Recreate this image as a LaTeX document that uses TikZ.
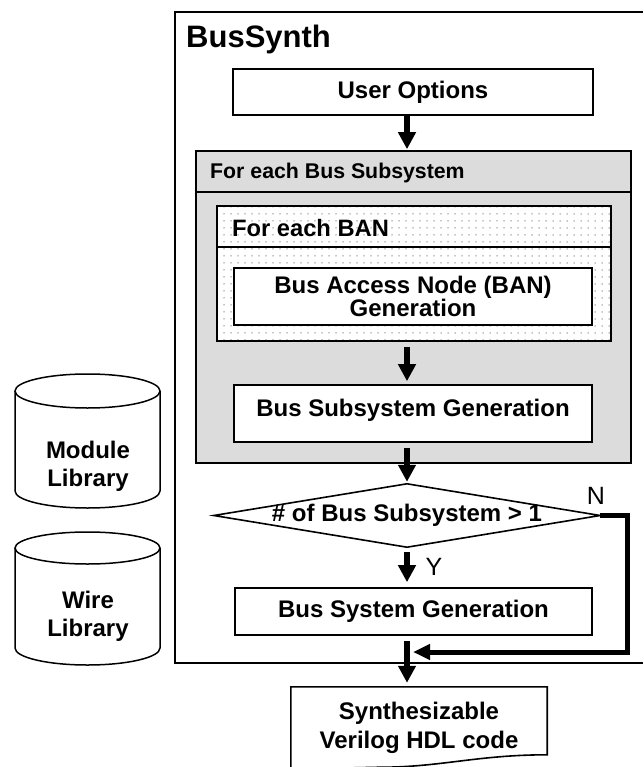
\documentclass[tikz,border=0pt]{standalone}
\usepackage{fontspec}
\setmainfont{Liberation Sans}
\usetikzlibrary{arrows.meta,patterns.meta,calc}
\definecolor{panelgray}{RGB}{220,220,220}
\begin{document}
\begin{tikzpicture}[x=1pt,y=-1pt,
  box/.style={draw, line width=1.6pt, fill=white, inner sep=0pt, align=center,
    font=\fontsize{24}{21.5}\selectfont\bfseries},
  plain/.style={inner sep=0pt, font=\fontsize{24}{28}\selectfont\bfseries, align=center},
  flow/.style={line width=6pt, -{Triangle[length=17pt,width=17pt]}},
  nline/.style={line width=5pt, line join=miter, -{Triangle[length=17pt,width=15pt]}},
  frame/.style={line width=1.6pt},
  cyl/.style={line width=1.5pt}]
\useasboundingbox (0,0) rectangle (643,767);

% outer BusSynth frame (open on the right, beyond the picture)
\draw[line width=1.3pt] (643,12) -- (175,12) -- (175,663) -- (643,663);
\node[anchor=base west, inner sep=0pt, font=\fontsize{31}{31}\selectfont\bfseries] (title) at (186,48) {BusSynth};

% user options
\node[box, minimum width=360pt, minimum height=46pt] (uo) at (413,92) {User Options};

% gray panel
\node[draw, frame, fill=panelgray, minimum width=435pt, minimum height=312pt, inner sep=0pt] (sub) at (413.5,307) {};
\draw[frame] (sub.west |- 0,192) -- (sub.east |- 0,192);
\node[anchor=base west, inner sep=0pt, font=\fontsize{21.3}{21.3}\selectfont\bfseries] (subt) at (210,179) {For each Bus Subsystem};

% dotted BAN loop
\node[draw, frame, preaction={fill=white}, pattern={Dots[distance=7pt,radius=0.75pt]}, pattern color=black!45,
  minimum width=394pt, minimum height=135pt, inner sep=0pt] (ban) at (414,273.5) {};
\draw[frame] (ban.west |- 0,247) -- (ban.east |- 0,247);
\node[anchor=base west, inner sep=0pt, font=\fontsize{23.7}{23.7}\selectfont\bfseries] (bant) at (232,236) {For each BAN};

\node[box, minimum width=358pt, minimum height=57pt] (bangen) at (413,296.5) {Bus Access Node (BAN)\\Generation};

\node[box, minimum width=358pt, minimum height=57pt, text height=17pt, text depth=12pt] (bsg) at (413,413.5) {Bus Subsystem Generation};

% decision
\node[inner sep=0pt, minimum width=386pt, minimum height=63pt, font=\fontsize{24}{24}\selectfont\bfseries] (dia) at (407,515.5) {\# of Bus Subsystem > 1};
\draw[frame, line join=miter] (dia.west) -- (dia.north) -- (dia.east) -- (dia.south) -- cycle;

\node[box, minimum width=357pt, minimum height=47pt] (bsys) at (413.5,611.5) {Bus System Generation};

% output document
\node[plain, minimum width=256pt, minimum height=82pt, font=\fontsize{24}{29}\selectfont\bfseries] (doc) at (419,728) {Synthesizable\\Verilog HDL code};
\draw[frame, fill=none] (doc.south west) -- (doc.north west) -- (doc.north east) -- ($(doc.north east)+(0,68)$)
  .. controls +(-70,0) and +(60,0) .. ($(doc.south west)+(90,-2)$) -- (doc.south west);

% labels
\node[inner sep=0pt, font=\fontsize{25}{25}\selectfont] (ylab) at (434,567) {Y};
\node[inner sep=0pt, font=\fontsize{25}{25}\selectfont] (nlab) at (596,496) {N};

% flow arrows
\draw[flow, shorten >=1pt] (uo.south -| dia.north) -- (sub.north -| dia.north);
\draw[flow, shorten <=5pt, shorten >=3pt] (ban.south -| dia.north) -- (bsg.north -| dia.north);
\draw[flow, shorten <=5pt, shorten >=2pt] (bsg.south -| dia.north) -- (dia.north);
\draw[flow, shorten <=5pt, shorten >=5pt] (dia.south) -- (bsys.north -| dia.north);
\draw[flow, shorten <=5pt, shorten >=4pt] (bsys.south -| dia.north) -- (doc.north -| dia.north);

\coordinate (nturn) at (627,652);
\draw[nline] (dia.east) -- (dia.east -| nturn) -- (nturn) -- ($(nturn -| dia.north)+(6,0)$);

% libraries
\draw[cyl] (87.5,391) ellipse [x radius=72.5pt, y radius=17pt];
\draw[cyl] (15,391) -- (15,491) .. controls (15,500.4) and (47.46,508) .. (87.5,508)
  .. controls (127.54,508) and (160,500.4) .. (160,491) -- (160,391);
\node[plain] (modlib) at (88,466) {Module\\Library};

\draw[cyl] (87.5,548) ellipse [x radius=72.5pt, y radius=16pt];
\draw[cyl] (15,548) -- (15,648) .. controls (15,657.4) and (47.46,665) .. (87.5,665)
  .. controls (127.54,665) and (160,657.4) .. (160,648) -- (160,548);
\node[plain] (wirelib) at (88,616) {Wire\\Library};
\end{tikzpicture}
\end{document}
